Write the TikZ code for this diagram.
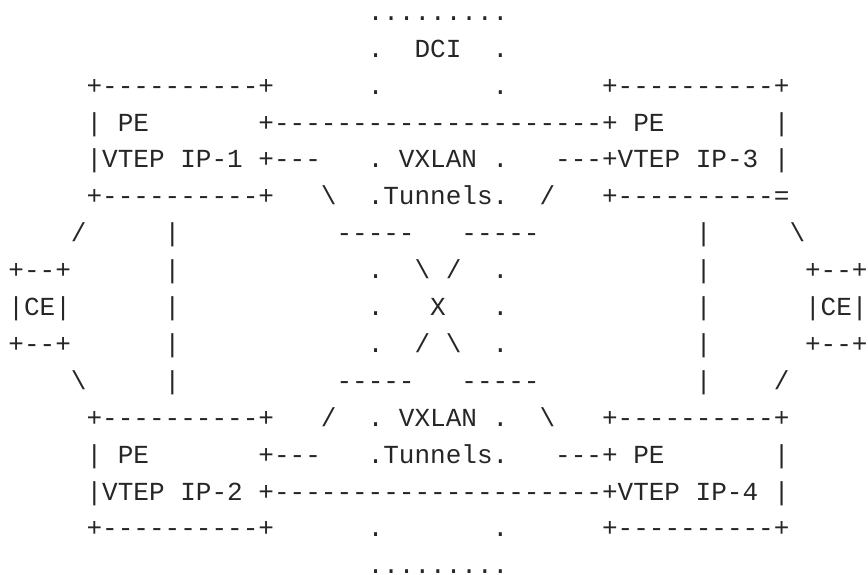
\documentclass[tikz,border=0pt]{standalone}
\usepackage{fontspec}
\setmonofont{Liberation Mono}
\definecolor{inkgray}{RGB}{38,38,38}

\begin{document}
\begin{tikzpicture}[x=15.62pt, y=-36.9pt,
    ascii/.style={anchor=base west, inner sep=0pt, outer sep=0pt, text=inkgray,
      text depth=0pt, font=\ttfamily\fontsize{26.03pt}{37pt}\selectfont}]
    \useasboundingbox (-8.5pt,-16.6pt) rectangle (859.5pt,-590.6pt);

    % DCI cloud
    \node[ascii] (dcitop) at (23,1) {.........};
    \node[ascii] (dci) at (26,2) {DCI};
    \node[ascii] (dcibot) at (23,16) {.........};
    \foreach \r in {2,3,8,9,10,15} {
        \node[ascii] (dcil\r) at (23,\r) {.};
        \node[ascii] (dcir\r) at (31,\r) {.};
    }

    % PE box edges
    \foreach \r in {3,6,12,15} {
        \node[ascii] (peleft\r) at (5,\r) {+----------+};
    }
    \foreach \r in {3,12,15} {
        \node[ascii] (peright\r) at (38,\r) {+----------+};
    }
    \node[ascii] (peright6) at (38,6) {+----------=};

    % PE 1 and PE 3
    \node[ascii] (pe1) at (5,4) {| PE};
    \node[ascii] (vtep1) at (5,5) {|VTEP IP-1};
    \node[ascii] (link13) at (16,4) {+---------------------+ PE};
    \node[ascii] (side3a) at (49,4) {|};
    \node[ascii] (stub1) at (16,5) {+---};
    \node[ascii] (vxlan1) at (23,5) {. VXLAN .};
    \node[ascii] (vtep3) at (35,5) {---+VTEP IP-3};
    \node[ascii] (side3b) at (49,5) {|};

    % PE 2 and PE 4
    \node[ascii] (pe2) at (5,13) {| PE};
    \node[ascii] (vtep2) at (5,14) {|VTEP IP-2};
    \node[ascii] (stub2) at (16,13) {+---};
    \node[ascii] (tunnels2) at (23,13) {.Tunnels.};
    \node[ascii] (pe4) at (35,13) {---+ PE};
    \node[ascii] (side4a) at (49,13) {|};
    \node[ascii] (link24) at (16,14) {+---------------------+VTEP IP-4};
    \node[ascii] (side4b) at (49,14) {|};

    % Tunnels
    \node[ascii] (diag1) at (20,6) {\textbackslash};
    \node[ascii] (tunnels1) at (23,6) {.Tunnels.};
    \node[ascii] (diag3) at (34,6) {/};
    \node[ascii] (diag2) at (20,12) {/};
    \node[ascii] (vxlan2) at (23,12) {. VXLAN .};
    \node[ascii] (diag4) at (34,12) {\textbackslash};
    \foreach \r in {7,11} {
        \node[ascii] (dashl\r) at (21,\r) {-----};
        \node[ascii] (dashr\r) at (29,\r) {-----};
    }
    \node[ascii] (crossa) at (26,8) {\textbackslash{} /};
    \node[ascii] (cross) at (27,9) {X};
    \node[ascii] (crossb) at (26,10) {/ \textbackslash};

    % CE links
    \foreach \r in {7,8,9,10,11} {
        \node[ascii] (vleft\r) at (10,\r) {|};
        \node[ascii] (vright\r) at (44,\r) {|};
    }
    \node[ascii] (ce1up) at (4,7) {/};
    \node[ascii] (ce1dn) at (4,11) {\textbackslash};
    \node[ascii] (ce2up) at (50,7) {\textbackslash};
    \node[ascii] (ce2dn) at (49,11) {/};

    % CE boxes
    \foreach \c in {0,51} {
        \node[ascii] (cetop\c) at (\c,8) {+--+};
        \node[ascii] (ce\c) at (\c,9) {|CE|};
        \node[ascii] (cebot\c) at (\c,10) {+--+};
    }
\end{tikzpicture}
\end{document}
